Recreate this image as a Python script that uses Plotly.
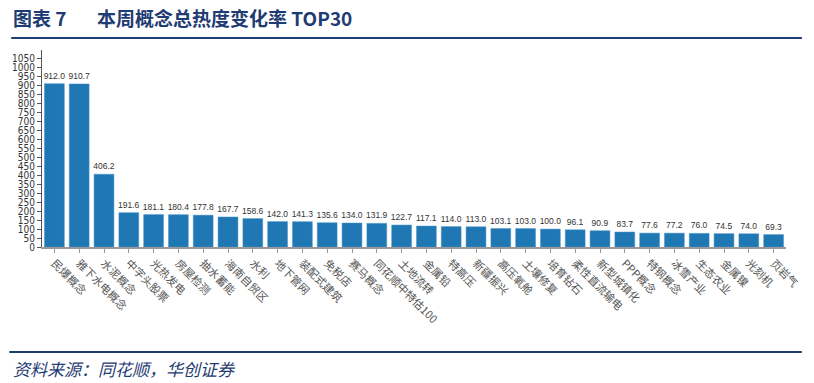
import plotly.graph_objects as go

categories = ["民爆概念", "雅下水电概念", "水泥概念", "中字头股票", "光热发电", "房屋检测",
              "抽水蓄能", "海南自贸区", "水利", "地下管网", "装配式建筑", "免税店",
              "赛马概念", "同花顺中特估100", "土地流转", "金属铅", "特高压", "新疆振兴",
              "高压氧舱", "土壤修复", "培育钻石", "柔性直流输电", "新型城镇化", "PPP概念",
              "特钢概念", "冰雪产业", "生态农业", "金属镍", "光刻机", "页岩气"]
values = [912.0, 910.7, 406.2, 191.6, 181.1, 180.4, 177.8, 167.7, 158.6, 142.0,
          141.3, 135.6, 134.0, 131.9, 122.7, 117.1, 114.0, 113.0, 103.1, 103.0,
          100.0, 96.1, 90.9, 83.7, 77.6, 77.2, 76.0, 74.5, 74.0, 69.3]
y_ticks = list(range(0, 1051, 50))

W, H = 814, 383
L, R, T, B = 39, 24, 50, 136
pw, ph = W - L - R, H - T - B

def px(x):
    return (x - L) / pw

def py(y):
    return (H - B - y) / ph

navy = "#1f3b73"
narrow = "DejaVu Sans Condensed, Liberation Sans"

fig = go.Figure(go.Bar(
    x=categories, y=values,
    marker=dict(color="#1f77b4", line=dict(color="#4a90c8", width=0.5)),
    text=[f"{v:.1f}" for v in values], textposition="outside",
    constraintext="none",
    textfont=dict(size=8.5, color="#333333", family="Liberation Sans"),
    cliponaxis=False,
))

fig.update_layout(
    width=W, height=H,
    margin=dict(l=L, r=R, t=T, b=B),
    plot_bgcolor="white", paper_bgcolor="white",
    bargap=0.2,
    showlegend=False,
    xaxis=dict(
        tickangle=45, tickfont=dict(size=11, color="#555555", family="Noto Sans CJK SC"),
        showline=True, linecolor="#999999", linewidth=1.5,
        ticks="outside", ticklen=4, tickcolor="#999999",
        showgrid=False,
    ),
    yaxis=dict(
        range=[0, 1100], tickvals=y_ticks,
        tickfont=dict(size=10, color="#333333", family=narrow),
        showline=True, linecolor="#555555", linewidth=1,
        ticks="outside", ticklen=4, tickcolor="#555555",
        showgrid=False, zeroline=False,
    ),
    shapes=[
        dict(type="line", xref="paper", yref="paper", x0=px(8), x1=px(806), y0=py(38), y1=py(38),
             line=dict(color=navy, width=2)),
        dict(type="line", xref="paper", yref="paper", x0=px(6), x1=px(806), y0=py(352), y1=py(352),
             line=dict(color=navy, width=2)),
    ],
    annotations=[
        dict(text="<b>图表 7</b>", xref="paper", yref="paper",
             x=px(8), y=py(17), xanchor="left", yanchor="middle", showarrow=False,
             font=dict(size=19, color=navy, family="Noto Sans CJK SC")),
        dict(text="<b>本周概念总热度变化率 TOP30</b>", xref="paper", yref="paper",
             x=px(92), y=py(17), xanchor="left", yanchor="middle", showarrow=False,
             font=dict(size=19, color=navy, family="Noto Sans CJK SC")),
        dict(text="<i>资料来源：同花顺，华创证券</i>", xref="paper", yref="paper",
             x=px(8), y=py(368), xanchor="left", yanchor="middle", showarrow=False,
             font=dict(size=17, color=navy, family="Noto Sans CJK SC")),
    ],
)

fig.write_html("out.html")
